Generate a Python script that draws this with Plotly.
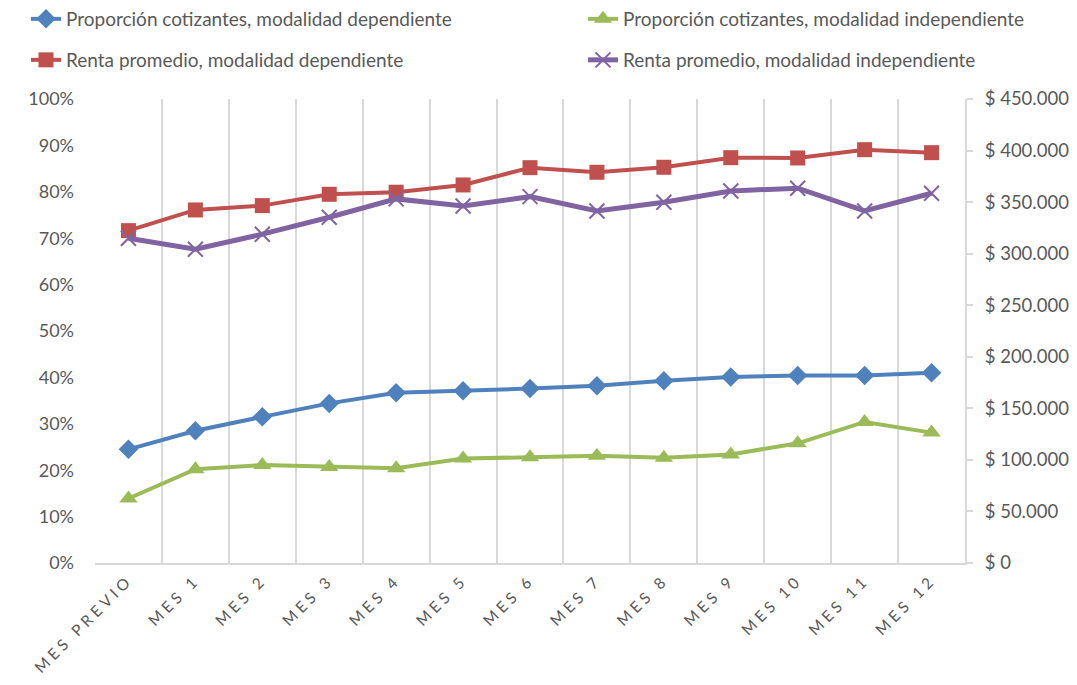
import plotly.graph_objects as go

categories = ["MES PREVIO", "MES 1", "MES 2", "MES 3", "MES 4", "MES 5", "MES 6",
              "MES 7", "MES 8", "MES 9", "MES 10", "MES 11", "MES 12"]

prop_dep = [0.245, 0.285, 0.315, 0.344, 0.367, 0.371, 0.376, 0.382, 0.393, 0.401, 0.404, 0.404, 0.410]
prop_ind = [0.139, 0.202, 0.211, 0.207, 0.204, 0.225, 0.228, 0.231, 0.227, 0.234, 0.258, 0.304, 0.281]
renta_dep = [322350, 342400, 346600, 357600, 359600, 366650, 383400, 378950, 383800, 393100, 392800, 400850, 397950]
renta_ind = [315000, 304300, 318900, 335300, 353100, 346300, 355300, 341450, 349900, 360800, 363450, 341450, 358600]

left_tickvals = [0, 0.1, 0.2, 0.3, 0.4, 0.5, 0.6, 0.7, 0.8, 0.9, 1.0]
left_ticktext = ["0%", "10%", "20%", "30%", "40%", "50%", "60%", "70%", "80%", "90%", "100%"]
right_tickvals = [0, 50000, 100000, 150000, 200000, 250000, 300000, 350000, 400000, 450000]
right_ticktext = ["$ 0", "$ 50.000", "$ 100.000", "$ 150.000", "$ 200.000", "$ 250.000",
                  "$ 300.000", "$ 350.000", "$ 400.000", "$ 450.000"]

FONT = "Lato"
TXT = "#595959"
GRID = "#D9D9D9"

fig = go.Figure()
fig.add_trace(go.Scatter(
    x=categories, y=prop_dep, name="Proporción cotizantes, modalidad dependiente",
    mode="lines+markers", line=dict(color="#4F81BD", width=4),
    marker=dict(symbol="diamond", size=15, color="#4F81BD"), legend="legend"))
fig.add_trace(go.Scatter(
    x=categories, y=prop_ind, name="Proporción cotizantes, modalidad independiente",
    mode="lines+markers", line=dict(color="#9BBB59", width=4),
    marker=dict(symbol="triangle-up", size=16, color="#9BBB59"), legend="legend2"))
fig.add_trace(go.Scatter(
    x=categories, y=renta_dep, name="Renta promedio, modalidad dependiente",
    mode="lines+markers", line=dict(color="#C0504D", width=4),
    marker=dict(symbol="square", size=15, color="#C0504D"), yaxis="y2", legend="legend3"))
fig.add_trace(go.Scatter(
    x=categories, y=renta_ind, name="Renta promedio, modalidad independiente",
    mode="lines+markers", line=dict(color="#8064A2", width=5),
    marker=dict(symbol="x-thin", size=15, color="#8064A2",
                line=dict(color="#8064A2", width=2)), yaxis="y2", legend="legend4"))

# the page adds an 8px body margin, so the figure is 8px smaller than the window
W = 1069.0
H = 677.0


def leg(xpx, ypx):
    return dict(orientation="h", xref="container", yref="container",
                x=xpx / W, xanchor="left", y=1 - ypx / H, yanchor="middle",
                font=dict(family=FONT, size=19, color=TXT),
                bgcolor="rgba(0,0,0,0)", itemclick=False, itemdoubleclick=False)


fig.update_layout(
    width=int(W), height=int(H),
    margin=dict(l=87, r=112, t=91, b=122, autoexpand=False),
    paper_bgcolor="white", plot_bgcolor="white",
    font=dict(family=FONT, color=TXT),
    showlegend=True,
    legend=leg(18, 11),
    legend2=leg(575, 11),
    legend3=leg(18, 52),
    legend4=leg(575, 52),
    xaxis=dict(type="category", tickson="boundaries", showgrid=True, gridcolor=GRID, gridwidth=2,
               showline=True, linecolor=GRID, linewidth=2, ticks="", tickangle=-45,
               tickfont=dict(family=FONT, size=15.5, color=TXT), range=[-0.5, 12.5],
               zeroline=False),
    yaxis=dict(range=[0, 1.0], tickvals=left_tickvals, ticktext=left_ticktext,
               showgrid=False, zeroline=False, showline=False, ticks="",
               ticklabelstandoff=20,
               tickfont=dict(family=FONT, size=18, color=TXT)),
    yaxis2=dict(range=[0, 450000], tickvals=right_tickvals, ticktext=right_ticktext,
                overlaying="y", side="right", showgrid=False, zeroline=False,
                showline=True, linecolor=GRID, linewidth=2,
                ticks="outside", ticklen=6, tickcolor=GRID, tickwidth=2,
                ticklabelstandoff=8,
                tickfont=dict(family=FONT, size=18.5, color=TXT)),
)

# widen the letter spacing of the category labels, as in the reference
js = ("document.querySelectorAll('.xtick text').forEach(function(t){"
      "t.style.letterSpacing='4px';});")

fig.write_html("out.html", post_script=js)
